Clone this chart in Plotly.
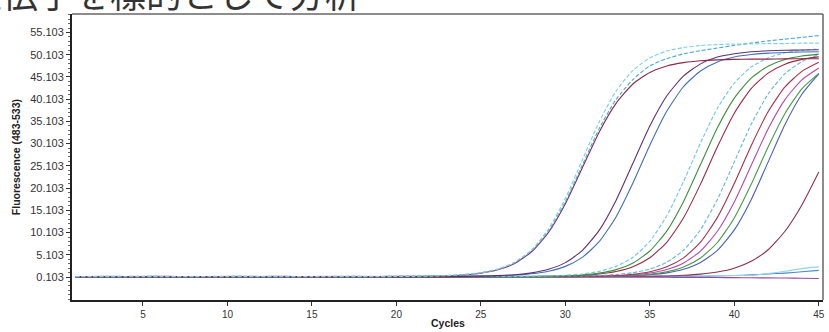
import plotly.graph_objects as go

cycles = list(range(1, 46))

# Fluorescence (483-533) per cycle
a1_cyan = [0.21,0.2,0.2,0.19,0.2,0.21,0.2,0.2,0.19,0.2,0.2,0.21,0.2,0.2,0.2,0.21,0.2,0.2,0.21,0.22,
           0.26,0.32,0.43,0.65,1.07,1.89,3.44,6.23,10.89,17.81,26.4,34.99,41.91,46.57,49.35,50.92,51.71,52.15,52.37,52.5,
           52.5,52.6,52.6,52.7,52.7]
a2_sky = [0.25,0.24,0.25,0.25,0.26,0.25,0.24,0.25,0.25,0.25,0.26,0.25,0.25,0.24,0.25,0.25,0.26,0.25,0.25,0.26,
          0.31,0.36,0.47,0.68,1.08,1.87,3.34,6.0,10.45,17.05,25.25,33.45,40.05,44.5,47.6,49.2,50.3,51.0,51.6,52.2,
          52.7,53.2,53.6,54.0,54.4]
a3_maroon = [0.15,0.15,0.16,0.15,0.15,0.14,0.15,0.15,0.15,0.16,0.15,0.15,0.15,0.14,0.15,0.15,0.15,0.16,0.15,0.16,
             0.2,0.26,0.36,0.57,0.96,1.73,3.18,5.79,10.15,16.61,24.65,32.69,39.15,43.52,46.11,47.58,48.32,48.73,48.94,49.05,
             49.1,49.1,49.15,49.2,49.2]
b1_purple = [0.2,0.21,0.2,0.2,0.19,0.2,0.2,0.21,0.2,0.2,0.2,0.19,0.2,0.2,0.21,0.2,0.2,0.2,0.21,0.2,
             0.2,0.21,0.22,0.26,0.31,0.42,0.63,1.05,1.85,3.35,6.07,10.6,17.34,25.7,34.06,40.8,45.34,48.04,49.57,50.33,
             50.77,50.98,51.1,51.15,51.2]
b2_blue = [0.25,0.25,0.24,0.25,0.25,0.26,0.25,0.25,0.25,0.24,0.25,0.25,0.26,0.25,0.25,0.25,0.24,0.25,0.25,0.26,
           0.26,0.27,0.28,0.29,0.33,0.41,0.56,0.85,1.42,2.51,4.53,8.05,13.63,21.25,29.74,37.37,42.95,46.45,48.48,49.59,
           50.14,50.45,50.6,50.7,50.75]
c1_cyan = [0.2,0.2,0.21,0.2,0.2,0.2,0.19,0.2,0.2,0.21,0.2,0.2,0.2,0.2,0.21,0.2,0.2,0.2,0.2,0.21,
           0.21,0.22,0.22,0.23,0.24,0.25,0.26,0.28,0.36,0.51,0.81,1.39,2.51,4.56,8.16,13.85,21.62,30.28,38.05,43.74,
           47.32,49.38,50.52,51.08,51.39]
c2_green = [0.15,0.15,0.15,0.16,0.15,0.15,0.15,0.14,0.15,0.15,0.15,0.16,0.15,0.15,0.15,0.15,0.14,0.15,0.15,0.16,
            0.16,0.16,0.17,0.17,0.18,0.19,0.2,0.21,0.26,0.37,0.58,0.99,1.78,3.27,5.96,10.45,17.12,25.4,33.68,40.35,
            44.84,47.52,49.03,49.79,50.22]
c3_darkred = [0.2,0.2,0.2,0.21,0.2,0.2,0.19,0.2,0.2,0.2,0.21,0.2,0.2,0.2,0.2,0.19,0.2,0.2,0.21,0.2,
              0.2,0.21,0.21,0.22,0.22,0.23,0.23,0.24,0.28,0.36,0.51,0.8,1.36,2.44,4.44,7.93,13.45,21.0,29.4,36.95,
              42.48,45.95,47.95,49.05,49.6]
c4_cyan = [0.25,0.25,0.26,0.25,0.25,0.25,0.24,0.25,0.25,0.26,0.25,0.25,0.25,0.25,0.24,0.25,0.25,0.26,0.25,0.25,
           0.26,0.26,0.27,0.27,0.28,0.28,0.29,0.29,0.3,0.31,0.36,0.47,0.69,1.1,1.91,3.43,6.17,10.76,17.55,26.0,
           34.45,41.25,45.83,48.56,50.1]
d1_maroon = [0.15,0.15,0.16,0.15,0.15,0.15,0.14,0.15,0.15,0.15,0.16,0.15,0.15,0.15,0.15,0.14,0.15,0.15,0.16,0.15,
             0.16,0.16,0.16,0.17,0.17,0.17,0.18,0.18,0.18,0.19,0.23,0.31,0.46,0.75,1.32,2.41,4.43,7.95,13.53,21.15,
             29.64,37.27,42.85,46.35,48.38]
d2_magenta = [0.2,0.2,0.2,0.19,0.2,0.2,0.21,0.2,0.2,0.2,0.2,0.19,0.2,0.2,0.21,0.2,0.2,0.2,0.2,0.21,
              0.21,0.21,0.22,0.22,0.22,0.23,0.23,0.24,0.24,0.25,0.26,0.31,0.42,0.63,1.03,1.82,3.29,5.95,10.4,17.0,
              25.2,33.4,40.0,44.45,47.1]
d3_green = [0.15,0.15,0.15,0.15,0.16,0.15,0.15,0.15,0.14,0.15,0.15,0.15,0.16,0.15,0.15,0.15,0.15,0.14,0.15,0.15,
            0.16,0.16,0.16,0.16,0.17,0.17,0.17,0.18,0.18,0.18,0.19,0.23,0.31,0.46,0.75,1.31,2.39,4.39,7.88,13.4,
            20.95,29.35,36.9,42.43,45.9]
d4_blue = [0.2,0.2,0.21,0.2,0.2,0.2,0.2,0.19,0.2,0.2,0.2,0.21,0.2,0.2,0.2,0.2,0.19,0.2,0.2,0.2,
           0.21,0.21,0.21,0.22,0.22,0.22,0.23,0.23,0.23,0.24,0.24,0.26,0.31,0.42,0.64,1.05,1.86,3.38,6.12,10.71,
           17.5,25.95,34.4,41.2,45.78]
e_late = [0.2,0.2,0.2,0.21,0.2,0.2,0.2,0.19,0.2,0.2,0.2,0.2,0.21,0.2,0.2,0.2,0.2,0.19,0.2,0.2,
          0.2,0.21,0.21,0.21,0.22,0.22,0.22,0.23,0.23,0.24,0.25,0.26,0.27,0.28,0.3,0.35,0.5,0.77,1.25,2.1,
          3.65,6.25,10.4,16.3,23.7]
f1_blue = [0.2,0.2,0.21,0.2,0.2,0.2,0.2,0.19,0.2,0.2,0.2,0.2,0.21,0.2,0.2,0.2,0.2,0.2,0.19,0.2,
           0.2,0.2,0.2,0.21,0.2,0.2,0.2,0.2,0.21,0.2,0.2,0.21,0.22,0.22,0.23,0.25,0.27,0.3,0.35,0.45,
           0.6,0.8,1.0,1.3,1.6]
f2_purple = [0.1,0.1,0.1,0.11,0.1,0.1,0.1,0.09,0.1,0.1,0.1,0.1,0.1,0.11,0.1,0.1,0.1,0.1,0.1,0.1,
             0.1,0.1,0.09,0.1,0.1,0.1,0.1,0.1,0.09,0.1,0.1,0.08,0.08,0.07,0.06,0.05,0.04,0.02,0.0,-0.02,
             -0.05,-0.08,-0.12,-0.16,-0.2]
f3_cyan = [0.25,0.25,0.26,0.25,0.25,0.25,0.25,0.24,0.25,0.25,0.26,0.25,0.25,0.25,0.25,0.26,0.25,0.25,0.25,0.25,
           0.25,0.26,0.26,0.27,0.27,0.28,0.28,0.29,0.3,0.3,0.31,0.32,0.33,0.34,0.35,0.36,0.38,0.4,0.43,0.46,
           0.5,0.9,1.4,2.0,2.4]

x_ticks = [5, 10, 15, 20, 25, 30, 35, 40, 45]
y_ticks = [0.103, 5.103, 10.103, 15.103, 20.103, 25.103, 30.103, 35.103, 40.103, 45.103, 50.103, 55.103]
y_tick_labels = ["0.103", "5.103", "10.103", "15.103", "20.103", "25.103", "30.103",
                 "35.103", "40.103", "45.103", "50.103", "55.103"]

series = [
    (f2_purple, "#9a4aa0", "solid"),
    (f1_blue, "#4f86c6", "solid"),
    (f3_cyan, "#8fd6ea", "solid"),
    (e_late, "#8a3050", "solid"),
    (d4_blue, "#4a5fb5", "solid"),
    (d3_green, "#4a9a48", "solid"),
    (d2_magenta, "#b04ab0", "solid"),
    (d1_maroon, "#a8304a", "solid"),
    (c4_cyan, "#62b6e0", "4px,2px"),
    (c3_darkred, "#9a2a44", "solid"),
    (c2_green, "#3d8f3d", "solid"),
    (c1_cyan, "#6cc6e4", "4px,2px"),
    (b2_blue, "#3f6fb5", "solid"),
    (b1_purple, "#5b3270", "solid"),
    (a3_maroon, "#8a2846", "solid"),
    (a2_sky, "#4aa8d8", "4px,2px"),
    (a1_cyan, "#7ccfe6", "4px,2px"),
]

fig = go.Figure()
for vals, col, dash in series:
    fig.add_trace(go.Scatter(x=cycles, y=vals, mode="lines",
                             line=dict(color=col, width=1.1, dash=dash, shape="spline", smoothing=0.6),
                             showlegend=False, hoverinfo="skip"))

fig.update_layout(
    width=829, height=332,
    margin=dict(l=72, r=4, t=13.5, b=31.5),
    paper_bgcolor="white", plot_bgcolor="white",
    xaxis=dict(range=[0.8, 45.25], tickvals=x_ticks, ticks="outside", ticklen=4,
               tickcolor="#333", showline=True, linecolor="#222", linewidth=2,
               showgrid=False, zeroline=False,
               tickfont=dict(family="Liberation Sans, Arial, sans-serif", size=10, color="#333")),
    yaxis=dict(range=[-5.05, 59.25], tickvals=y_ticks, ticktext=y_tick_labels,
               ticks="outside", ticklen=4, tickcolor="#333", showline=True,
               linecolor="#222", linewidth=2, showgrid=False, zeroline=False,
               tickfont=dict(family="Liberation Sans, Arial, sans-serif", size=11, color="#333"),
               minor=dict(ticks="outside", ticklen=2, dtick=1, tick0=0.103, tickcolor="#666")),
    shapes=[
        dict(type="line", xref="paper", yref="paper", x0=0, x1=1, y0=1, y1=1,
             line=dict(color="#666", width=1.5)),
        dict(type="line", xref="paper", yref="paper", x0=1, x1=1, y0=0, y1=1,
             line=dict(color="#666", width=1.5)),
    ],
    annotations=[
        dict(text="遺伝子を標的として分析", xref="paper", yref="paper",
             x=-0.1434, y=1, xanchor="left", yanchor="bottom", yshift=-6, showarrow=False,
             font=dict(family="Noto Sans CJK JP", size=36, color="#333")),
        dict(text="<b>Fluorescence (483-533)</b>", xref="paper", yref="paper",
             x=-0.0744, y=0.5, xanchor="center", yanchor="middle", textangle=-90,
             showarrow=False, font=dict(family="Liberation Sans, Arial", size=10.5, color="#222")),
        dict(text="<b>Cycles</b>", xref="paper", yref="paper",
             x=0.5007, y=-0.0819, xanchor="center", yanchor="middle",
             showarrow=False, font=dict(family="Liberation Sans, Arial", size=10.5, color="#222")),
    ],
)

fig.write_html("out.html", config={"displayModeBar": False},
               post_script="document.body.style.margin='0';document.body.style.overflow='hidden';")
